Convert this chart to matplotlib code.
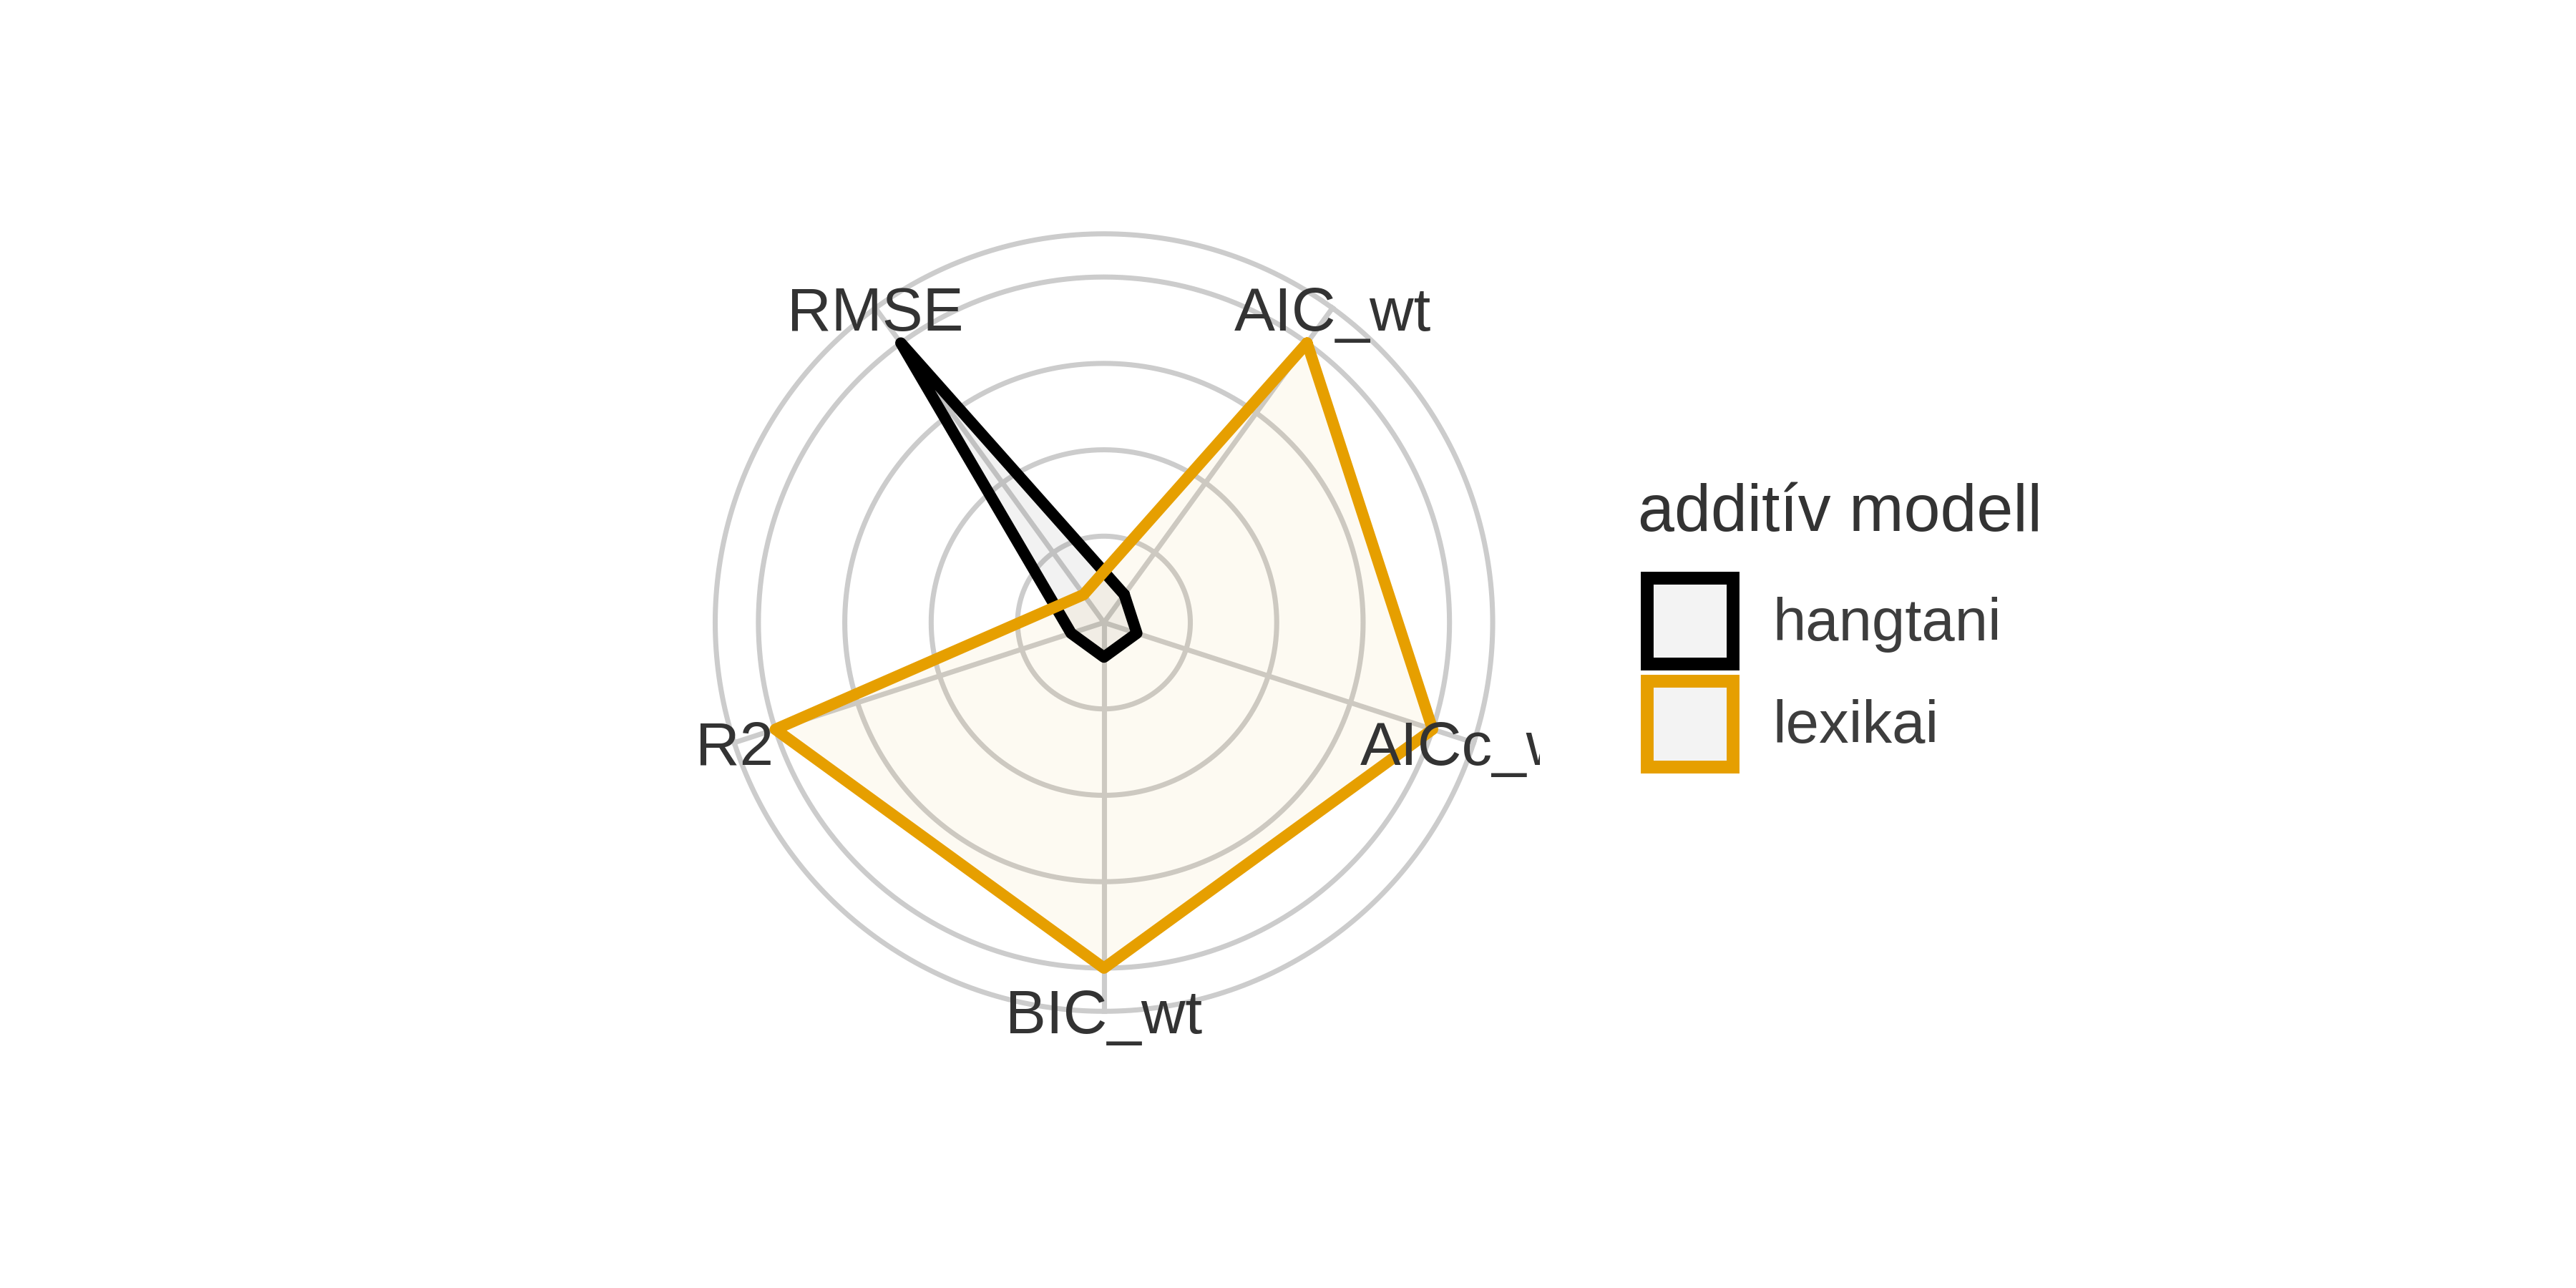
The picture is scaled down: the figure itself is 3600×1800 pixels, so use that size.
import numpy as np
import matplotlib
matplotlib.use('Agg')
import matplotlib.pyplot as plt
from matplotlib.patches import Patch

# rescaled model-fit metrics (0 = worst, 1 = best)
metrics = ['AIC_wt', 'AICc_wt', 'BIC_wt', 'R2', 'RMSE']
groups = ['hangtani', 'lexikai']
hangtani = [0.0, 0.0, 0.0, 0.0, 1.0]
lexikai = [1.0, 1.0, 1.0, 1.0, 0.0]
legend_title = 'additív modell'

colors = {'hangtani': '#000000', 'lexikai': '#E69F00'}
series = {'hangtani': hangtani, 'lexikai': lexikai}

plt.rcParams['font.family'] = ['Liberation Sans', 'DejaVu Sans']

fig = plt.figure(figsize=(12, 6), dpi=300)
ax = fig.add_axes([0.2594, 0.1783, 0.3383, 0.6767], projection='polar')
ax.set_theta_zero_location('N', offset=-36)
ax.set_theta_direction(-1)

# centre sits a bit below zero, like ggradar's centre.y
r0 = -1 / 9
ax.set_ylim(r0, 1.29)
ax.set_xticks([])
ax.set_yticks([])
ax.grid(False)
ax.spines['polar'].set_visible(False)
ax.patch.set_visible(False)

theta = np.arange(len(metrics)) * 2 * np.pi / len(metrics)
theta_closed = np.append(theta, theta[0])

# grid rings and spokes
ring_fracs = [0.25, 0.5, 0.75, 1.0, 1.125]
ring_vals = [r0 + f * (1 - r0) for f in ring_fracs]
outer = ring_vals[-1]
circ = np.linspace(0, 2 * np.pi, 721)
for v in ring_vals:
    ax.plot(circ, np.full_like(circ, v), color='#cccccc', lw=1.7, zorder=1)
for t in theta:
    ax.plot([t, t], [r0, outer], color='#cccccc', lw=1.7, zorder=1)

# polygons
for g in groups:
    vals = np.append(series[g], series[g][0])
    ax.fill(theta_closed, vals, color=colors[g], alpha=0.05, lw=0, zorder=2)
    ax.plot(theta_closed, vals, color=colors[g], lw=3.8,
            solid_joinstyle='round', solid_capstyle='round', zorder=3)

# axis labels, clipped to the square panel
for t, name in zip(theta, metrics):
    txt = ax.text(t, outer, name, ha='center', va='center_baseline',
                  fontsize=20.5, color='#333333', clip_on=True, zorder=4)
    txt.set_clip_path(None)
    txt.set_clip_box(ax.bbox)

# legend
fig.text(0.6358, 0.5879, legend_title, fontsize=22, color='#333333',
         ha='left', va='baseline')
handles = [Patch(facecolor='#f3f3f3', edgecolor=colors[g], linewidth=4.3, label=g)
           for g in groups]
leg = fig.legend(handles=handles, loc='upper left', bbox_to_anchor=(0.6394, 0.5509),
                 frameon=False, fontsize=20,
                 handlelength=1.44, handleheight=1.838, handletextpad=0.67,
                 labelspacing=0.28, borderpad=0, borderaxespad=0)
for t in leg.get_texts():
    t.set_color('#3d3d3d')

fig.savefig('out.png', dpi=300, facecolor='white')
